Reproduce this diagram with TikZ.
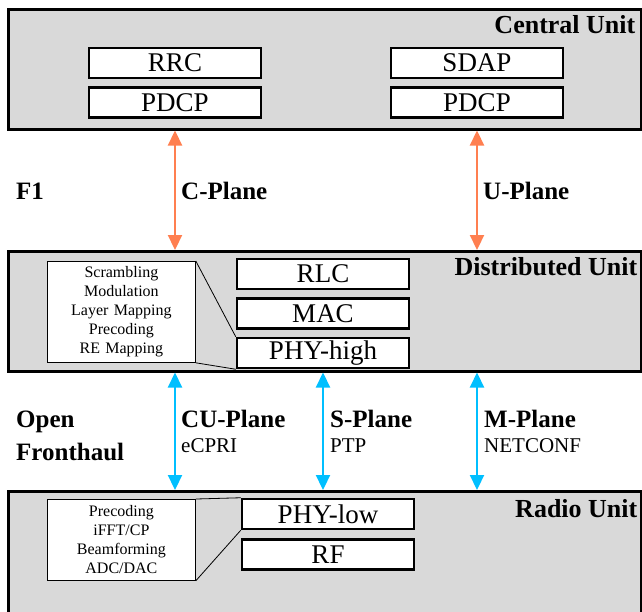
\documentclass[tikz,border=0pt]{standalone}
\usepackage{fontspec}
\setmainfont{Liberation Serif}
\usetikzlibrary{positioning,arrows.meta}
\definecolor{unitgray}{HTML}{D9D9D9}
\definecolor{f1orange}{HTML}{FF7F50}
\definecolor{fhblue}{HTML}{00BFFF}
\tikzset{
	unitbox/.style={draw,line width=2.5pt,fill=unitgray,anchor=north west,minimum width=633pt,minimum height=120pt},
	unitlabel/.style={anchor=base east,inner sep=0pt,font=\bfseries\fontsize{26}{30}\selectfont},
	layerbox/.style={draw,line width=2.5pt,fill=white,minimum width=172pt,minimum height=30pt,inner sep=0pt,font=\fontsize{27}{30}\selectfont},
	funcbox/.style={draw,line width=0.8pt,fill=white,anchor=north west,text width=140pt,inner sep=4pt,align=center,font=\fontsize{16}{19}\selectfont},
	planelabel/.style={anchor=base west,inner sep=0pt,font=\bfseries\fontsize{25}{30}\selectfont},
	protolabel/.style={anchor=base west,inner sep=0pt,font=\fontsize{21}{25}\selectfont},
	f1arrow/.style={{Triangle[width=14pt,length=15pt]}-{Triangle[width=14pt,length=15pt]},line width=2.2pt,draw=f1orange,fill=f1orange},
	fharrow/.style={{Triangle[width=14pt,length=15pt]}-{Triangle[width=14pt,length=15pt]},line width=2.2pt,draw=fhblue,fill=fhblue}
}

\begin{document}
\begin{tikzpicture}[x=1pt,y=-1pt]
	\useasboundingbox (0,0) rectangle (642,611);
	\clip (0,0) rectangle (642,611);
	% central unit
	\node[unitbox](cu) at (7,8){};
	\node[unitlabel](culabel) at ([xshift=-7pt,yshift=-25pt]cu.north east){Central Unit};
	\node[layerbox](rrc) at (175,63){RRC};
	\node[layerbox,below = 7pt of rrc](pdcpc){PDCP};
	\node[layerbox](sdap) at (477,63){SDAP};
	\node[layerbox,below = 7pt of sdap](pdcpu){PDCP};
	% distributed unit
	\node[unitbox](du) at (7,250){};
	\node[unitlabel](dulabel) at ([xshift=-5pt,yshift=-25pt]du.north east){Distributed Unit};
	\node[layerbox](rlc) at (323,274){RLC};
	\node[layerbox,below = 7pt of rlc](mac){MAC};
	\node[layerbox,below = 7pt of mac](phyhigh){PHY-high};
	\node[funcbox,minimum height=101pt](highfunc) at (47,261){Scrambling\\Modulation\\Layer Mapping\\Precoding\\RE Mapping};
	\draw[line width=0.8pt] (highfunc.north east) -- (phyhigh.north west);
	\draw[line width=0.8pt] (highfunc.south east) -- (phyhigh.south west);
	% radio unit
	\node[unitbox,minimum height=140pt](ru) at (7,490){};
	\node[unitlabel](rulabel) at ([xshift=-5pt,yshift=-27pt]ru.north east){Radio Unit};
	\node[layerbox](phylow) at (328,514){PHY-low};
	\node[layerbox,below = 8pt of phylow](rf){RF};
	\node[funcbox,minimum height=81pt](lowfunc) at (47,499){Precoding\\iFFT/CP\\Beamforming\\ADC/DAC};
	\draw[line width=0.8pt] (lowfunc.north east) -- (phylow.north west);
	\draw[line width=0.8pt] (lowfunc.south east) -- (phylow.south west);
	% F1
	\node[planelabel](f1) at (16,199){F1};
	\draw[f1arrow] (pdcpc.south |- cu.south) -- (pdcpc.south |- du.north);
	\node[planelabel](cplane) at (181,199){C-Plane};
	\draw[f1arrow] (pdcpu.south |- cu.south) -- (pdcpu.south |- du.north);
	\node[planelabel](uplane) at (483,199){U-Plane};
	% open fronthaul
	\node[planelabel](open) at (16,427){Open};
	\node[planelabel](fronthaul) at (16,460){Fronthaul};
	\draw[fharrow] (du.south -| pdcpc.south) -- (ru.north -| pdcpc.south);
	\node[planelabel](cuplane) at (181,427){CU-Plane};
	\node[protolabel](ecpri) at (181,452){eCPRI};
	\draw[fharrow] (du.south -| rlc.south) -- (ru.north -| rlc.south);
	\node[planelabel](splane) at (330,427){S-Plane};
	\node[protolabel](ptp) at (330,452){PTP};
	\draw[fharrow] (du.south -| pdcpu.south) -- (ru.north -| pdcpu.south);
	\node[planelabel](mplane) at (484,427){M-Plane};
	\node[protolabel](netconf) at (484,452){NETCONF};
\end{tikzpicture}
\end{document}
